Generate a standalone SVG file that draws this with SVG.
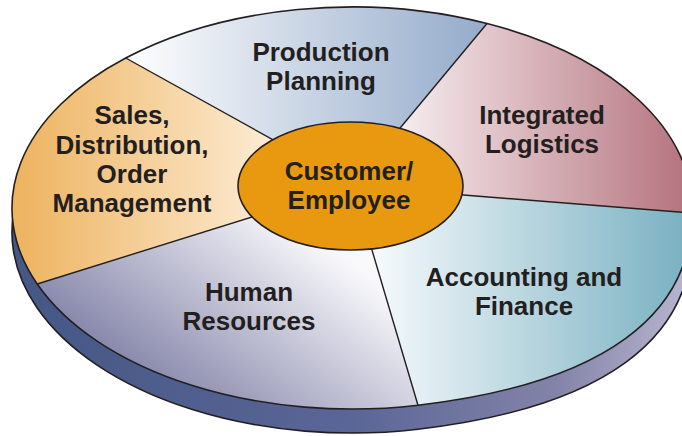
<svg xmlns="http://www.w3.org/2000/svg" width="682" height="436" viewBox="0 0 682 436">
<defs>
<style>
.lbl{font-family:"Liberation Sans",Arial,sans-serif;font-weight:bold;font-size:26px;fill:#231F20;text-anchor:middle}
.div{stroke:#231F20;stroke-width:1.4;fill:none}
.edge{stroke:#231F20;stroke-width:1.6}
</style>
<path id="outline" d="M37.2,284 A340 201 0 0 1 125.7,58 A340 201 0 0 1 487,23.5 A340 201 0 0 1 691.9,213 C691.9,313 606.7,383.2 418,405.2 A340 201 0 0 1 37.2,284 Z"/>
<linearGradient id="gSide" gradientUnits="userSpaceOnUse" x1="12" y1="0" x2="692" y2="0">
<stop offset="0" stop-color="#445785"/>
<stop offset="0.5" stop-color="#5A6697"/>
<stop offset="0.8" stop-color="#8383A8"/>
<stop offset="1" stop-color="#B9B8D1"/>
</linearGradient>
<linearGradient id="gSales" gradientUnits="userSpaceOnUse" x1="15" y1="0" x2="270" y2="0">
<stop offset="0" stop-color="#EDB35F"/>
<stop offset="1" stop-color="#FDEBD3"/>
</linearGradient>
<linearGradient id="gProd" gradientUnits="userSpaceOnUse" x1="125" y1="0" x2="490" y2="0">
<stop offset="0" stop-color="#FFFFFF"/>
<stop offset="1" stop-color="#93AACA"/>
</linearGradient>
<linearGradient id="gLog" gradientUnits="userSpaceOnUse" x1="400" y1="0" x2="690" y2="0">
<stop offset="0" stop-color="#F6ECEE"/>
<stop offset="1" stop-color="#B4727D"/>
</linearGradient>
<linearGradient id="gAcc" gradientUnits="userSpaceOnUse" x1="372" y1="0" x2="690" y2="0">
<stop offset="0" stop-color="#F6FAFC"/>
<stop offset="1" stop-color="#78B0C1"/>
</linearGradient>
<linearGradient id="gHR" gradientUnits="userSpaceOnUse" x1="80" y1="390" x2="290" y2="110">
<stop offset="0" stop-color="#A8A8C4"/>
<stop offset="0.15" stop-color="#8A8AAD"/>
<stop offset="0.75" stop-color="#F8F8FB"/>
<stop offset="1" stop-color="#FFFFFF"/>
</linearGradient>
</defs>

<g id="disc-side">
<use href="#outline" transform="translate(0,24)" fill="url(#gSide)" class="edge"/>
</g>

<g id="sales">
<path d="M266.3,212.5 L37.2,284 A340 201 0 0 1 125.7,58 L283,145.3 L350,186 Z" fill="url(#gSales)"/>
<text class="lbl" x="132" y="124">Sales,</text>
<text class="lbl" x="132" y="154">Distribution,</text>
<text class="lbl" x="132" y="183">Order</text>
<text class="lbl" x="132" y="212">Management</text>
</g>

<g id="production">
<path d="M283,145.3 L125.7,58 A340 201 0 0 1 487,23.5 L391.4,138.5 L350,186 Z" fill="url(#gProd)"/>
<text class="lbl" x="321" y="61">Production</text>
<text class="lbl" x="321" y="90">Planning</text>
</g>

<g id="logistics">
<path d="M391.4,138.5 L487,23.5 A340 201 0 0 1 691.9,213 L448,193.8 L350,186 Z" fill="url(#gLog)"/>
<text class="lbl" x="542" y="124">Integrated</text>
<text class="lbl" x="542" y="153">Logistics</text>
</g>

<g id="accounting">
<path d="M448,193.8 L691.9,213 C691.9,313 606.7,383.2 418,405.2 L367.7,235.6 L350,186 Z" fill="url(#gAcc)"/>
<text class="lbl" x="524" y="286">Accounting and</text>
<text class="lbl" x="524" y="315">Finance</text>
</g>

<g id="human-resources">
<path d="M367.7,235.6 L418,405.2 A340 201 0 0 1 37.2,284 L266.3,212.5 L350,186 Z" fill="url(#gHR)"/>
<text class="lbl" x="249" y="301">Human</text>
<text class="lbl" x="249" y="330">Resources</text>
</g>

<g id="connectors">
<use href="#outline" fill="none" class="edge"/>
<line class="div" x1="125.7" y1="58" x2="283" y2="145.3"/>
<line class="div" x1="487" y1="23.5" x2="391.4" y2="138.5"/>
<line class="div" x1="691.9" y1="213" x2="448" y2="193.8"/>
<line class="div" x1="418" y1="405.2" x2="367.7" y2="235.6"/>
<line class="div" x1="37.2" y1="284" x2="266.3" y2="212.5"/>
</g>

<g id="customer-employee">
<ellipse cx="350.5" cy="186" rx="112.5" ry="64" fill="#E8990F" stroke="#231F20" stroke-width="1.6"/>
<text class="lbl" x="349" y="180">Customer/</text>
<text class="lbl" x="349" y="209">Employee</text>
</g>
</svg>
